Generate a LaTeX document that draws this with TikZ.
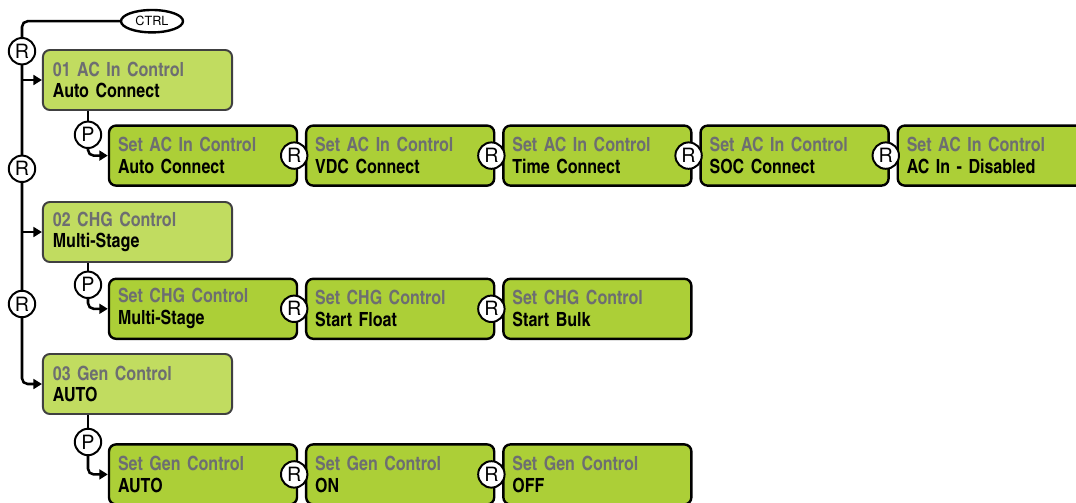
\documentclass[tikz,border=0pt]{standalone}
\usepackage{fontspec}
\setmainfont{TeX Gyre Heros}
\newfontfamily\cnfont{texgyreheroscn}[Extension=.otf,UprightFont=*-regular,BoldFont=*-bold]
\usetikzlibrary{shapes.geometric,arrows.meta,positioning}

\definecolor{mainfill}{HTML}{C1DC60}
\definecolor{subfill}{HTML}{ACCF37}
\definecolor{boxgray}{HTML}{404040}
\definecolor{txtgray}{HTML}{6D6E71}

\begin{document}
\begin{tikzpicture}[
    mainbox/.style={draw=boxgray, line width=1.4pt, fill=mainfill, rounded corners=5pt,
                    text width=4.23cm, inner xsep=0.25cm, minimum height=1.5cm,
                    align=left, font=\cnfont\bfseries\fontsize{13.9}{15.5}\selectfont},
    subbox/.style={draw, line width=1.7pt, fill=subfill, rounded corners=5pt,
                   text width=4.25cm, inner xsep=0.225cm, minimum height=1.5cm,
                   align=left, font=\cnfont\bfseries\fontsize{13.9}{15.5}\selectfont},
    rc/.style={circle, draw, fill=white, line width=1.4pt, minimum size=0.66cm,
               inner sep=0pt, font=\fontsize{14}{14}\selectfont},
    wire/.style={line width=1.8pt, rounded corners=4pt},
    arr/.style={-{Triangle[length=6pt,width=7pt]}}
]
    \useasboundingbox (0,0) rectangle (26.9,-12.55);

    \node[ellipse, draw, fill=white, line width=1.7pt, minimum width=1.55cm,
          minimum height=0.56cm, inner sep=0pt, font=\fontsize{9}{9}\selectfont]
          (ctrl) at (3.8,-0.53) {CTRL};

    % Main menu boxes
    \node[mainbox] (m1) at (3.4375,-2.0) {\textcolor{txtgray}{01 AC In Control}\\Auto Connect};
    \node[mainbox] (m2) at (3.4375,-5.8) {\textcolor{txtgray}{02 CHG Control}\\Multi-Stage};
    \node[mainbox] (m3) at (3.4375,-9.6) {\textcolor{txtgray}{03 Gen Control}\\AUTO};

    % Row 1 settings
    \node[subbox] (s11) at (5.075,-3.89) {\textcolor{txtgray}{Set AC In Control}\\Auto Connect};
    \node[subbox, right=0.17cm of s11] (s12) {\textcolor{txtgray}{Set AC In Control}\\VDC Connect};
    \node[subbox, right=0.17cm of s12] (s13) {\textcolor{txtgray}{Set AC In Control}\\Time Connect};
    \node[subbox, right=0.17cm of s13] (s14) {\textcolor{txtgray}{Set AC In Control}\\SOC Connect};
    \node[subbox, right=0.17cm of s14] (s15) {\textcolor{txtgray}{Set AC In Control}\\AC In - Disabled};

    % Row 2 settings
    \node[subbox] (s21) at (5.075,-7.72) {\textcolor{txtgray}{Set CHG Control}\\Multi-Stage};
    \node[subbox, right=0.17cm of s21] (s22) {\textcolor{txtgray}{Set CHG Control}\\Start Float};
    \node[subbox, right=0.17cm of s22] (s23) {\textcolor{txtgray}{Set CHG Control}\\Start Bulk};

    % Row 3 settings
    \node[subbox] (s31) at (5.075,-11.86) {\textcolor{txtgray}{Set Gen Control}\\AUTO};
    \node[subbox, right=0.17cm of s31] (s32) {\textcolor{txtgray}{Set Gen Control}\\ON};
    \node[subbox, right=0.17cm of s32] (s33) {\textcolor{txtgray}{Set Gen Control}\\OFF};

    % Trunk from CTRL
    \coordinate (trunk) at (0.55,-0.53);
    \draw[wire, arr] (ctrl.west) -- (trunk) |- (m3.west);
    \draw[wire, arr] (m1.west -| trunk) -- (m1.west);
    \draw[wire, arr] (m2.west -| trunk) -- (m2.west);
    \node[rc] (rt1) at (0.55,-1.28) {R};
    \node[rc] (rt2) at (0.55,-4.22) {R};
    \node[rc] (rt3) at (0.55,-7.6) {R};

    % P branches
    \node[rc] (p1) at (2.2,-3.37) {P};
    \node[rc] (p2) at (2.2,-7.12) {P};
    \node[rc] (p3) at (2.2,-11.05) {P};
    \draw[wire] (m1.south -| p1) -- (p1.north);
    \draw[wire] (m2.south -| p2) -- (p2.north);
    \draw[wire] (m3.south -| p3) -- (p3.north);
    \draw[wire, arr] (p1.south) |- (s11.west);
    \draw[wire, arr] (p2.south) |- (s21.west);
    \draw[wire, arr] (p3.south) |- (s31.west);

    % R between settings
    \foreach \a in {s11,s12,s13,s14,s21,s22,s31,s32}
        \node[rc, xshift=-0.1cm] (r-\a) at (\a.east) {R};
\end{tikzpicture}
\end{document}
